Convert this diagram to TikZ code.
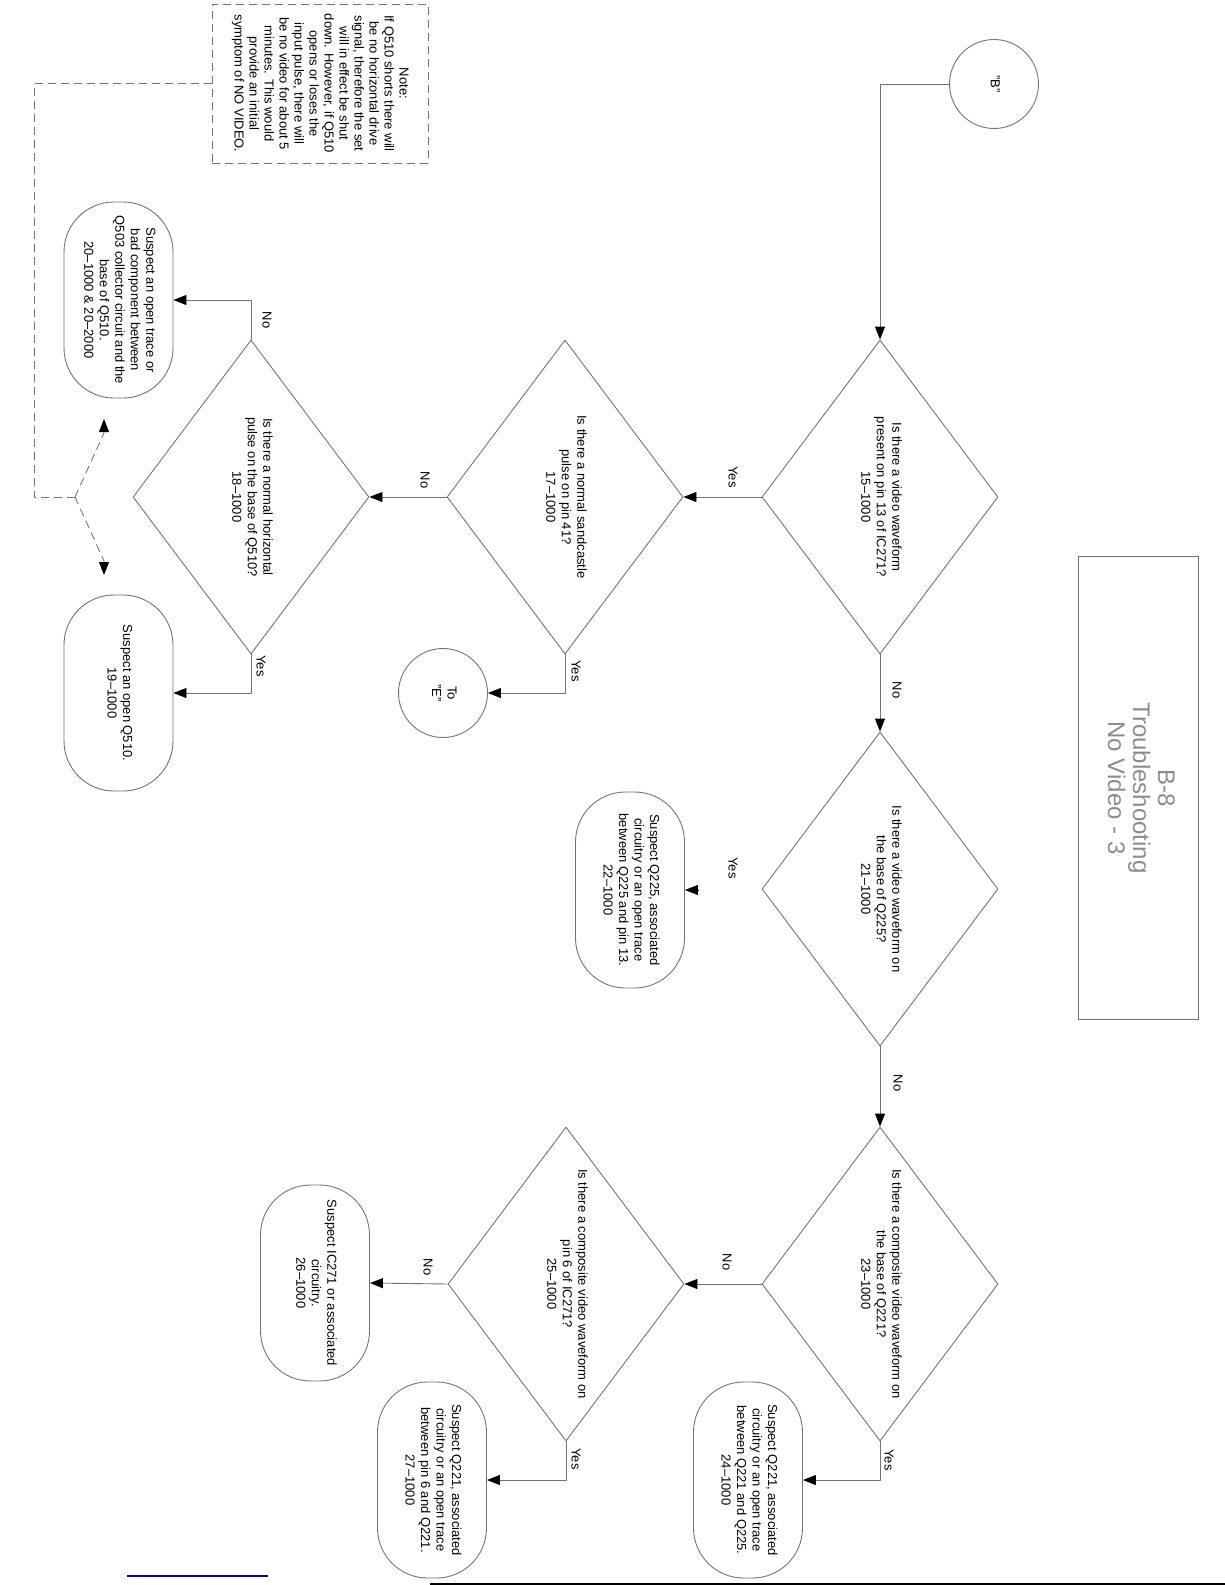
\documentclass[tikz,border=0pt]{standalone}
\usepackage{fontspec}
\usepackage{graphicx}
\setmainfont{Liberation Sans}
\usetikzlibrary{shapes.geometric,arrows.meta}
\definecolor{linegray}{gray}{0.45}
\definecolor{titlegray}{gray}{0.55}
\newcommand{\rtext}[1]{\rotatebox{-90}{\begin{tabular}{@{}c@{}}#1\end{tabular}}}
\tikzset{
	decision/.style={diamond,draw=linegray,line width=0.9pt,aspect=0.75,inner sep=0pt,minimum width=236pt,minimum height=314pt},
	term/.style={rectangle,draw=linegray,line width=0.9pt,rounded corners=50pt,inner sep=0pt,minimum width=109pt,minimum height=196pt},
	conn/.style={circle,draw=linegray,line width=0.9pt,inner sep=0pt,minimum size=89pt},
	lbl/.style={rotate=-90,inner sep=1pt},
	wire/.style={draw=linegray,line width=0.9pt},
	dash8/.style={dash pattern=on 8pt off 5pt}
}
\begin{document}
\begin{tikzpicture}[x=1pt,y=-1pt,>={Triangle[length=13pt,width=10pt,color=black,fill=black]},line join=round,font={\fontsize{13}{15.5}\selectfont}]
		\useasboundingbox (0,0) rectangle (1225,1585);
		\node[draw=linegray,line width=0.9pt,minimum width=120pt,minimum height=463pt,inner sep=0pt,text=titlegray,font={\fontsize{24}{25}\selectfont}] (ttl) at (1138,788) {\rtext{B-8\\Troubleshooting\\No Video - 3}};
		\node[conn] (b) at (994,84) {\rtext{"B"}};
		\node[decision] (d15) at (880,497) {\rtext{Is there a video waveform\\present on pin 13 of IC271?\\15--1000}};
		\node[decision] (d17) at (565,497) {\rtext{Is there a normal sandcastle\\pulse on pin 41?\\17--1000}};
		\node[decision] (d18) at (251,497) {\rtext{Is there a normal horizontal\\pulse on the base of Q510?\\18--1000}};
		\node[conn] (e) at (443,693) {\rtext{To\\"E"}};
		\node[term] (s19) at (118.5,693) {\rtext{Suspect an open Q510.\\19--1000}};
		\node[term] (s20) at (118.5,300) {\rtext{Suspect an open trace or\\bad component between\\Q503 collector circuit and the\\base of Q510.\\20--1000 \& 20--2000}};
		\node[decision] (d21) at (880,889) {\rtext{Is there a video waveform on\\the base of Q225?\\21--1000}};
		\node[term] (s22) at (630,890) {\rtext{Suspect Q225, associated\\circuitry or an open trace\\between Q225 and pin 13.\\22--1000}};
		\node[decision] (d23) at (880,1284) {\rtext{Is there a composite video waveform on\\the base of Q221?\\23--1000}};
		\node[term] (s24) at (748,1480) {\rtext{Suspect Q221, associated\\circuitry or an open trace\\between Q221 and Q225.\\24--1000}};
		\node[decision] (d25) at (566,1284) {\rtext{Is there a composite video waveform on\\pin 6 of IC271?\\25--1000}};
		\node[term] (s26) at (315,1283) {\rtext{Suspect IC271 or associated\\circuitry.\\26--1000}};
		\node[term] (s27) at (432,1480) {\rtext{Suspect Q221, associated\\circuitry or an open trace\\between pin 6 and Q221.\\27--1000}};
		\node[draw=linegray,line width=0.9pt,dash8,minimum width=216pt,minimum height=159pt,inner sep=0pt,font={\fontsize{13}{15}\selectfont}] (note) at (320,83.5) {\rtext{Note:\\If Q510 shorts there will\\be no horizontal drive\\signal, therefore the set\\will in effect be shut\\down. However, if Q510\\opens or loses the\\input pulse, there will\\be no video for about 5\\minutes. This would\\provide an initial\\symptom of NO VIDEO.}};
		\node[lbl] (y15) at (733,477) {Yes};
		\node[lbl] (n17) at (425,480) {No};
		\node[lbl] (n18) at (267,320) {No};
		\node[lbl] (y18) at (261,666) {Yes};
		\node[lbl] (y17) at (576,671) {Yes};
		\node[lbl] (n15) at (897,690) {No};
		\node[lbl] (y21) at (733,868) {Yes};
		\node[lbl] (n21) at (898,1083) {No};
		\node[lbl] (n23) at (727,1262) {No};
		\node[lbl] (y23) at (889,1460) {Yes};
		\node[lbl] (n25) at (428,1267) {No};
		\node[lbl] (y25) at (576,1459) {Yes};
		\coordinate (y22) at (698,890);
		\coordinate (nk) at (34,497);
		\coordinate (nb) at (75,497);
		\coordinate (nu) at (104,419);
		\coordinate (nd) at (104,575);
		\draw[wire,->] (b.west) -| (d15.north);
		\draw[wire,->] (d15.west) -- (d17.east);
		\draw[wire,->] (d17.west) -- (d18.east);
		\draw[wire,->] (d18.north) |- (s20.east);
		\draw[wire,->] (d18.south) |- (s19.east);
		\draw[wire,->] (d17.south) |- (e.east);
		\draw[wire,->] (d15.south) -- (d21.north);
		\draw[->] (y22) -- (s22.east);
		\draw[wire,->] (d21.south) -- (d23.north);
		\draw[wire,->] (d23.west) -- (d25.east);
		\draw[wire,->] (d23.south) |- (s24.east);
		\draw[wire,->] (d25.west) -- (s26.east);
		\draw[wire,->] (d25.south) |- (s27.east);
		\draw[wire,dash8] (note.west) -| (nk) -- (nb);
		\draw[wire,dash8,->] (nb) -- ++(29,-64) -- (nu);
		\draw[wire,dash8,->] (nb) -- ++(29,64) -- (nd);
		\draw[blue!80!black,line width=1.5pt] (127,1576) -- (268,1576);
		\draw[black,line width=2pt] (430,1584) -- (1225,1584);
\end{tikzpicture}
\end{document}
